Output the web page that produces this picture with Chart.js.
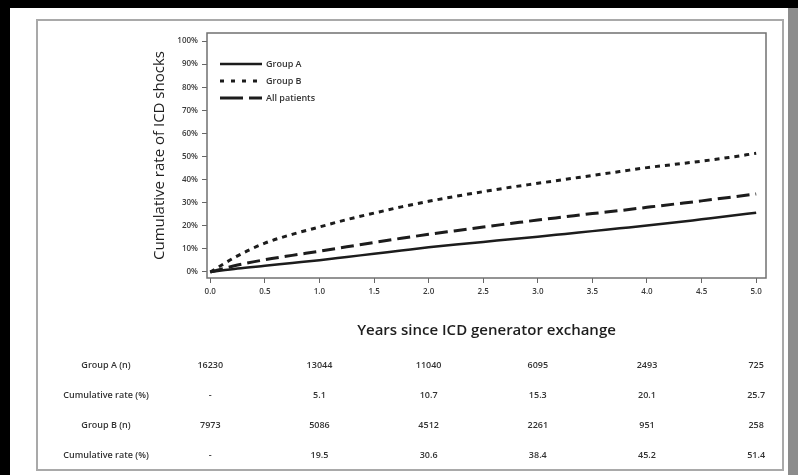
<!DOCTYPE html>
<html>
<head>
<meta charset="utf-8">
<script src="https://cdn.jsdelivr.net/npm/chart.js@4/dist/chart.umd.min.js"></script>
<style>
  html, body { margin:0; padding:0; background:#000; width:798px; height:475px; overflow:hidden; }
  #page { position:absolute; left:10px; top:8px; width:778px; height:467px; background:#fff; }
  #strip { position:absolute; left:788px; top:8px; width:10px; height:467px; background:#8c8c8c; }
  #box { position:absolute; left:36px; top:19px; width:744px; height:448px; border:2px solid #a9a9a9; }
  #c { position:absolute; left:0; top:0; }
</style>
</head>
<body>
<div id="page"></div>
<div id="strip"></div>
<div id="box"></div>
<canvas id="c" width="798" height="475"></canvas>
<script>
// ---- data ----
const years = [0,0.25,0.5,0.75,1,1.25,1.5,1.75,2,2.25,2.5,2.75,3,3.25,3.5,3.75,4,4.25,4.5,4.75,5];
const groupA = [0,1.5,2.7,3.9,5.1,6.5,7.9,9.3,10.7,11.9,13.0,14.2,15.3,16.5,17.7,18.9,20.1,21.4,22.8,24.2,25.7];
const groupB = [0,7.0,12.5,16.3,19.5,22.7,25.5,28.2,30.6,32.8,34.8,36.7,38.4,40.1,41.8,43.5,45.2,46.6,48.0,49.6,51.4];
const allPatients = [0,3.0,5.3,7.2,9.0,10.9,12.8,14.6,16.3,17.9,19.5,21.0,22.5,23.9,25.3,26.6,28.0,29.4,30.8,32.3,33.8];
const seriesNames = ['Group A','Group B','All patients'];
const xTickValues = [0,0.5,1,1.5,2,2.5,3,3.5,4,4.5,5];
const yTickValues = [0,10,20,30,40,50,60,70,80,90,100];
const xTitle = 'Years since ICD generator exchange';
const yTitle = 'Cumulative rate of ICD shocks';
const tableYears = [0,1,2,3,4,5];
const tableRowLabels = ['Group A (n)','Cumulative rate (%)','Group B (n)','Cumulative rate (%)'];
const groupAN = ['16230','13044','11040','6095','2493','725'];
const groupARate = ['-','5.1','10.7','15.3','20.1','25.7'];
const groupBN = ['7973','5086','4512','2261','951','258'];
const groupBRate = ['-','19.5','30.6','38.4','45.2','51.4'];

const FONT = '"Open Sans", "Liberation Sans", sans-serif';
const LINE = '#1c1c1c';
const styles = [
  { dash: [], width: 2.5 },
  { dash: [5,5], width: 3 },
  { dash: [13,6], width: 3 }
];

const toXY = arr => arr.map((v,i) => ({x: years[i], y: v}));

const extras = {
  id: 'extras',
  afterDraw(chart) {
    const {ctx, chartArea: a, scales: {x}} = chart;
    ctx.save();
    // plot frame
    ctx.strokeStyle = '#707070';
    ctx.lineWidth = 1.5;
    ctx.setLineDash([]);
    ctx.strokeRect(a.left, a.top, a.right - a.left, a.bottom - a.top);
    // legend
    const lx0 = 220, lx1 = 262, ly = [64, 81, 98];
    seriesNames.forEach((n, i) => {
      ctx.strokeStyle = LINE;
      ctx.lineWidth = styles[i].width;
      ctx.setLineDash(i === 1 ? [4,7] : (i === 2 ? [23,6] : []));
      ctx.beginPath();
      ctx.moveTo(lx0, ly[i]);
      ctx.lineTo(lx1, ly[i]);
      ctx.stroke();
      ctx.setLineDash([]);
      ctx.fillStyle = '#333';
      ctx.font = '600 9px ' + FONT;
      ctx.textAlign = 'left';
      ctx.textBaseline = 'middle';
      ctx.fillText(n, 266, ly[i]);
    });
    // x axis title
    ctx.fillStyle = '#1e1e1e';
    ctx.font = '600 15px ' + FONT;
    ctx.textAlign = 'center';
    ctx.textBaseline = 'middle';
    ctx.fillText(xTitle, (a.left + a.right) / 2, 331);
    // table
    const rowY = [365, 395, 425, 455];
    const rows = [groupAN, groupARate, groupBN, groupBRate];
    ctx.font = '600 9px ' + FONT;
    ctx.fillStyle = '#333';
    rows.forEach((r, ri) => {
      ctx.textAlign = 'center';
      ctx.fillText(tableRowLabels[ri], 106, rowY[ri]);
      r.forEach((v, ci) => {
        ctx.fillText(v, x.getPixelForValue(tableYears[ci]), rowY[ri]);
      });
    });
    ctx.restore();
  }
};

new Chart(document.getElementById('c'), {
  type: 'line',
  data: {
    datasets: [groupA, groupB, allPatients].map((d, i) => ({
      label: seriesNames[i],
      data: toXY(d),
      borderColor: LINE,
      borderWidth: styles[i].width,
      borderDash: styles[i].dash,
      pointRadius: 0,
      fill: false,
      cubicInterpolationMode: 'monotone'
    }))
  },
  options: {
    responsive: false,
    animation: false,
    devicePixelRatio: 1,
    layout: { padding: { left: 150, top: 33, right: 32, bottom: 167 } },
    plugins: { legend: { display: false }, tooltip: { enabled: false } },
    scales: {
      x: {
        type: 'linear',
        min: -0.03, max: 5.09,
        afterBuildTicks: s => { s.ticks = xTickValues.map(v => ({value: v})); },
        afterFit: s => { s.height = 30; },
        border: { display: false },
        grid: { drawOnChartArea: false, drawTicks: true, tickLength: 5, color: '#666', lineWidth: 1 },
        ticks: { padding: 4, color: '#3a3a3a', font: { size: 8, weight: '600', family: FONT }, maxRotation: 0,
                 callback: v => Number(v).toFixed(1) }
      },
      y: {
        type: 'linear',
        min: -2.6, max: 103.5,
        afterBuildTicks: s => { s.ticks = yTickValues.map(v => ({value: v})); },
        afterFit: s => { s.width = 57; },
        border: { display: false },
        grid: { drawOnChartArea: false, drawTicks: true, tickLength: 5, color: '#666', lineWidth: 1 },
        ticks: { padding: 4, color: '#3a3a3a', font: { size: 8, weight: '600', family: FONT },
                 callback: v => v + '%' },
        title: { display: true, text: yTitle, color: '#1e1e1e', font: { size: 15, family: FONT },
                 padding: { top: 1, bottom: 0 } }
      }
    }
  },
  plugins: [extras]
});
</script>
</body>
</html>
